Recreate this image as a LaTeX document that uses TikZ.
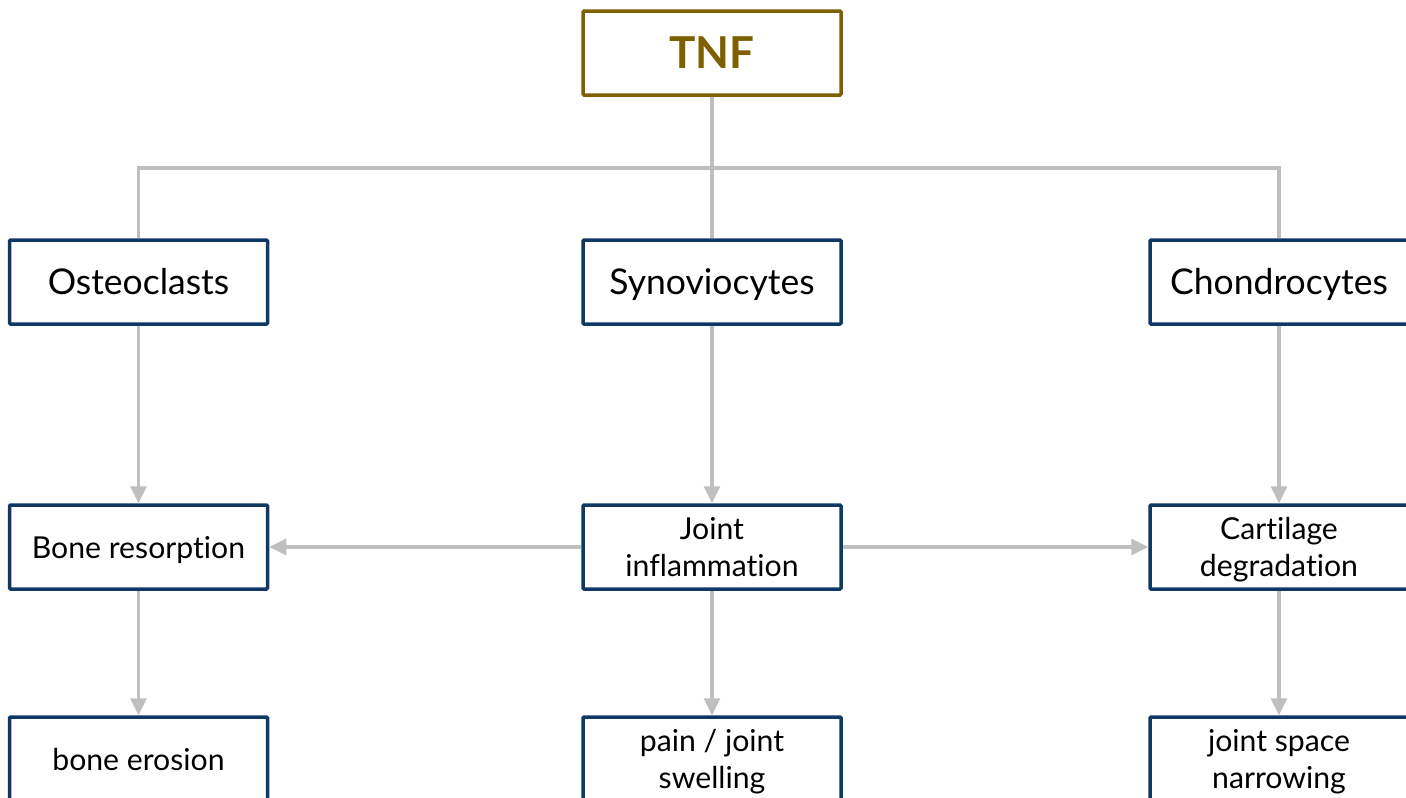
\documentclass[tikz,border=0pt]{standalone}
\usepackage{fontspec}
\setmainfont{Lato}[Ligatures={NoCommon}]
\usetikzlibrary{arrows.meta}
\definecolor{tnfcol}{RGB}{127,96,0}
\definecolor{boxblue}{RGB}{16,56,100}
\definecolor{conngray}{RGB}{191,191,191}
\tikzset{
  box/.style={draw=boxblue, line width=3.5pt, fill=white, rectangle, rounded corners=1pt,
    minimum width=258pt, minimum height=84pt, align=center, inner sep=2pt, text depth=0pt},
  bigtxt/.style={font=\fontsize{35.5}{40}\selectfont, text height=25pt},
  smalltxt/.style={font=\fontsize{30.2}{36.5}\selectfont, text height=22pt},
  twoline/.style={font=\fontsize{30.2}{36.5}\selectfont, text height=58.5pt},
  tnfbox/.style={draw=tnfcol, line width=3.5pt, fill=white, rectangle, rounded corners=1pt,
    minimum width=258pt, minimum height=84pt, text=tnfcol, font=\fontsize{44}{50}\selectfont\bfseries},
  conn/.style={draw=conngray, line width=3.2pt},
  arr/.style={conn, -{Triangle[length=17pt,width=16pt]}}
}
\begin{document}
\begin{tikzpicture}[x=1pt,y=-1pt]
\useasboundingbox (0,0) rectangle (1406,798);
\node[tnfbox] (tnf) at (712,53) {TNF};
\node[box,bigtxt] (ost) at (138.5,282) {Osteoclasts};
\node[box,bigtxt] (syn) at (712,282) {Synoviocytes};
\node[box,bigtxt] (cho) at (1279,282) {Chondrocytes};
\node[box,smalltxt] (bre) at (138.5,547) {Bone resorption};
\node[box,twoline] (jin) at (712,547) {Joint\\inflammation};
\node[box,twoline] (cde) at (1279,547) {Cartilage\\degradation};
\node[box,smalltxt] (ber) at (138.5,759) {bone erosion};
\node[box,twoline] (pjs) at (712,759) {pain / joint\\swelling};
\node[box,twoline] (jsn) at (1279,759) {joint space\\narrowing};
\coordinate (hub) at (712,168);
\draw[conn] (tnf.south) -- (syn.north);
\draw[conn] (ost.north) |- (hub) -| (cho.north);
\draw[arr] (ost.south) -- (bre.north);
\draw[arr] (syn.south) -- (jin.north);
\draw[arr] (cho.south) -- (cde.north);
\draw[arr] (jin.west) -- (bre.east);
\draw[arr] (jin.east) -- (cde.west);
\draw[arr] (bre.south) -- (ber.north);
\draw[arr] (jin.south) -- (pjs.north);
\draw[arr] (cde.south) -- (jsn.north);
\end{tikzpicture}
\end{document}
